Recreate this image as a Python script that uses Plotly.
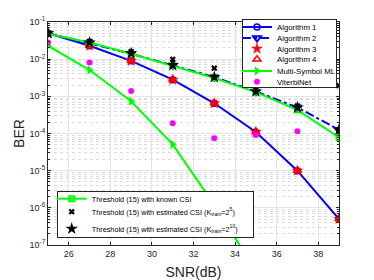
import plotly.graph_objects as go

# ---------------- data ----------------
snr = [25, 27, 29, 31, 33, 35, 37, 39]
alg1 = [5.0e-2, 2.3e-2, 9.0e-3, 2.8e-3, 6.5e-4, 1.1e-4, 1.0e-5, 5.0e-7]
alg2 = [5.0e-2, 2.7e-2, 1.4e-2, 6.8e-3, 3.3e-3, 1.35e-3, 5.0e-4, 1.26e-4]
alg3 = [5.0e-2, 2.3e-2, 9.0e-3, 2.8e-3, 6.5e-4, 1.1e-4, 1.0e-5, 5.0e-7]
alg4 = [5.0e-2, 2.3e-2, 9.0e-3, 2.8e-3, 6.5e-4, 1.1e-4, 1.0e-5, 5.0e-7]
multi_ml = [2.3e-2, 5.1e-3, 7.4e-4, 5.1e-5, 1.2e-6, 2.0e-8, None, None]
viterbi = [2.8e-2, 8.1e-3, 1.4e-3, 1.9e-4, 7.4e-5, 9.1e-5, 1.15e-4, None]
thr_known = [4.8e-2, 2.8e-2, 1.4e-2, 6.6e-3, 3.1e-3, 1.3e-3, 4.3e-4, 7.8e-5]
thr_est5 = [5.2e-2, 3.0e-2, 1.6e-2, 9.9e-3, 5.7e-3, 1.5e-3, 5.5e-4, 1.94e-3]
thr_est10 = [5.0e-2, 2.8e-2, 1.44e-2, 6.9e-3, 3.3e-3, 1.35e-3, 5.0e-4, 1.26e-4]

x_ticks = [26, 28, 30, 32, 34, 36, 38]
y_ticks = [1e-7, 1e-6, 1e-5, 1e-4, 1e-3, 1e-2, 1e-1]
y_ticktext = ["10<sup>-7</sup>", "10<sup>-6</sup>", "10<sup>-5</sup>", "10<sup>-4</sup>",
              "10<sup>-3</sup>", "10<sup>-2</sup>", "10<sup>-1</sup>"]

names1 = ["Algorithm 1", "Algorithm 2", "Algorithm 3", "Algorithm 4", "Multi-Symbol ML", "ViterbiNet"]
names2 = ["Threshold (15) with known CSI",
          "Threshold (15) with estimated CSI (K<sub>train</sub>=2<sup>5</sup>)",
          "Threshold (15) with estimated CSI (K<sub>train</sub>=2<sup>10</sup>)"]

BLUE = "#0000FF"
RED = "#FF0000"
GREEN = "#00FF00"
MAG = "#FF00FF"
FONT = "Liberation Sans, Arial, Helvetica, sans-serif"

fig = go.Figure()

fig.add_trace(go.Scatter(x=snr, y=alg1, name=names1[0], mode="lines+markers",
                         line=dict(color=BLUE, width=2),
                         marker=dict(symbol="circle-open", size=6, color=BLUE, line=dict(width=1.5)),
                         legend="legend"))
fig.add_trace(go.Scatter(x=snr, y=alg2, name=names1[1], mode="lines+markers",
                         line=dict(color=BLUE, width=2, dash="dashdot"),
                         marker=dict(symbol="triangle-down-open", size=7, color=BLUE, line=dict(width=2)),
                         legend="legend"))
fig.add_trace(go.Scatter(x=snr, y=alg3, name=names1[2], mode="markers",
                         marker=dict(symbol="star", size=8, color=RED, line=dict(width=0.5, color=RED)),
                         legend="legend"))
fig.add_trace(go.Scatter(x=snr, y=alg4, name=names1[3], mode="markers",
                         marker=dict(symbol="triangle-up-open", size=7, color=RED, line=dict(width=1.5)),
                         legend="legend"))
fig.add_trace(go.Scatter(x=snr, y=multi_ml, name=names1[4], mode="lines+markers",
                         line=dict(color=GREEN, width=2),
                         marker=dict(symbol="triangle-right", size=8, color=GREEN),
                         legend="legend"))
fig.add_trace(go.Scatter(x=snr, y=viterbi, name=names1[5], mode="markers",
                         marker=dict(symbol="circle", size=6, color=MAG),
                         legend="legend"))

fig.add_trace(go.Scatter(x=snr, y=thr_known, name=names2[0], mode="lines+markers",
                         line=dict(color=GREEN, width=2),
                         marker=dict(symbol="square-open", size=5, color=GREEN, line=dict(width=2)),
                         legend="legend2"))
fig.add_trace(go.Scatter(x=snr, y=thr_est5, name=names2[1], mode="markers",
                         marker=dict(symbol="x", size=5.5, color="black", line=dict(width=0)),
                         legend="legend2"))
fig.add_trace(go.Scatter(x=snr, y=thr_est10, name=names2[2], mode="markers",
                         marker=dict(symbol="star", size=9.5, color="black", line=dict(width=0)),
                         legend="legend2"))

axis_common = dict(showline=True, linecolor="#262626", linewidth=1, mirror="ticks",
                   ticks="inside", ticklen=3, tickcolor="#262626", automargin=False,
                   showgrid=True, gridcolor="#E3E3E3", gridwidth=1, zeroline=False,
                   tickfont=dict(family=FONT, size=9, color="#262626"))

fig.update_layout(
    template="none",
    width=374, height=280,
    margin=dict(l=48, r=35, t=22, b=35, autoexpand=False),
    paper_bgcolor="white", plot_bgcolor="white",
    font=dict(family=FONT, color="#262626"),
    xaxis=dict(range=[25, 39], tickvals=x_ticks,
               title=dict(text="SNR(dB)", font=dict(family=FONT, size=14, color="#262626"), standoff=9),
               **axis_common),
    yaxis=dict(type="log", range=[-7, -1], tickvals=y_ticks, ticktext=y_ticktext,
               title=dict(text="BER", font=dict(family=FONT, size=14, color="#262626"), standoff=1),
               minor=dict(tickvals=[m * 10.0 ** e for e in range(-7, -1) for m in range(2, 10)],
                          showgrid=True, gridcolor="#DCDCDC", griddash="dot", gridwidth=1,
                          ticks="inside", ticklen=2, tickcolor="#262626"),
               **axis_common),
    showlegend=True,
    legend=dict(x=0.995, y=1.012, xanchor="right", yanchor="top",
                bgcolor="white", bordercolor="#262626", borderwidth=1,
                font=dict(family=FONT, size=7.8, color="black"), itemwidth=30),
    legend2=dict(x=0.03, y=0.242, xanchor="left", yanchor="top",
                 bgcolor="white", bordercolor="#262626", borderwidth=1,
                 font=dict(family=FONT, size=7.3, color="black"), itemwidth=30),
)

# remove default page margin and compact legend rows (MATLAB-like spacing)
post = """
document.body.style.margin = '0px';
document.body.style.padding = '0px';
var gd = document.getElementById('{plot_id}');
var specs = {
  legend:  {left: 242,  top: 19.3, w: 95,    h: 68.4, ix: -5, offs: [7.7, 18.7, 29.4, 40.0, 51.7, 62.4]},
  legend2: {left: 56.7, top: 191,  w: 197.3, h: 46.7, ix: -5, offs: [7.7, 20.7, 37.7]}
};
Object.keys(specs).forEach(function(k){
  var lg = gd.querySelector('g.' + k);
  if(!lg) return;
  var sp = specs[k];
  lg.setAttribute('transform', 'translate(' + sp.left + ',' + sp.top + ')');
  var sb = lg.querySelector('g.scrollbox');
  if(sb){ sb.removeAttribute('clip-path'); sb.setAttribute('transform', ''); }
  var items = lg.querySelectorAll('g.traces');
  items.forEach(function(it, i){
    if(i < sp.offs.length){
      it.setAttribute('transform', 'translate(' + sp.ix + ',' + sp.offs[i] + ')');
    }
  });
  var bg = lg.querySelector('rect.bg');
  if(bg){
    bg.setAttribute('x', 0.5); bg.setAttribute('y', 0.5);
    bg.setAttribute('width', sp.w - 1); bg.setAttribute('height', sp.h - 1);
  }
});
"""

fig.write_html("out.html", post_script=post, config={"displayModeBar": False})
